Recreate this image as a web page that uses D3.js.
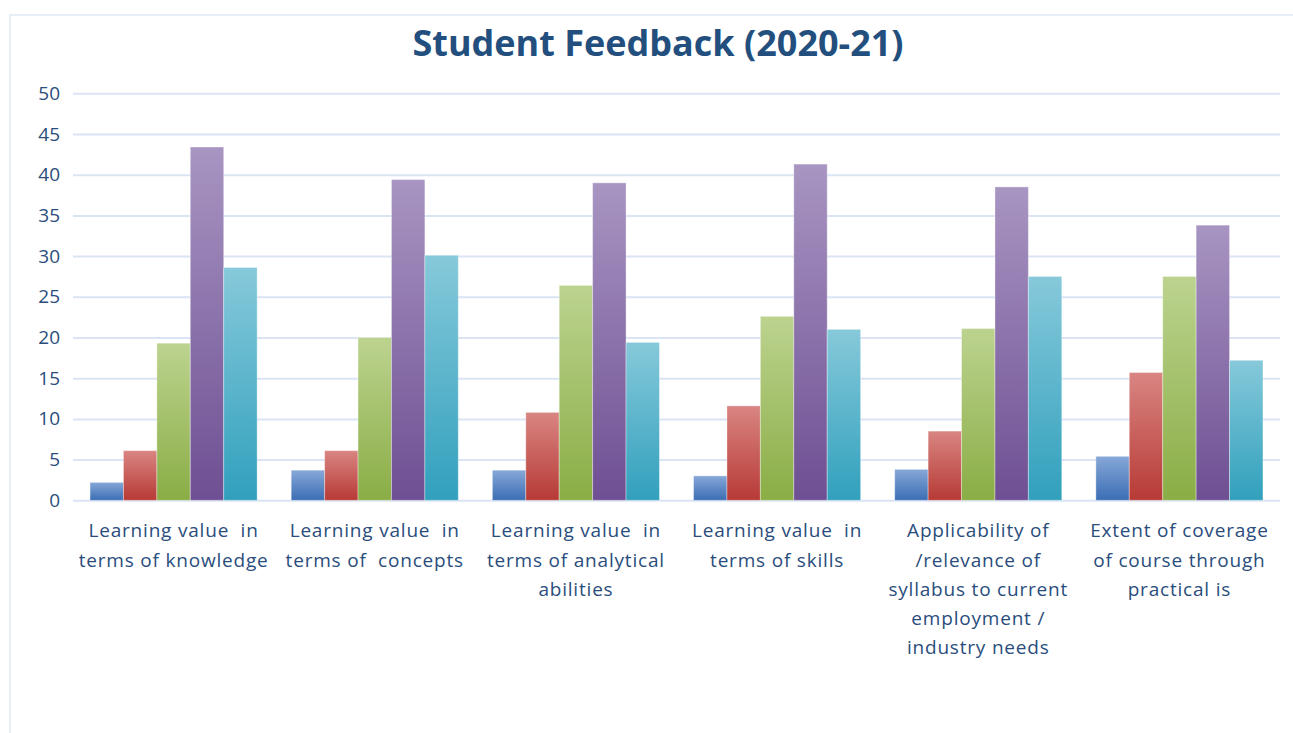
<!DOCTYPE html>
<html>
<head>
<meta charset="utf-8">
<script src="https://cdn.jsdelivr.net/npm/d3@7"></script>
<style>
  body { margin: 0; background: white; }
  text { font-family: "Open Sans", sans-serif; }
</style>
</head>
<body>
<div id="chart"></div>
<script>
const categories = [
    ["Learning value  in", "terms of knowledge"],
    ["Learning value  in", "terms of  concepts"],
    ["Learning value  in", "terms of analytical", "abilities"],
    ["Learning value  in", "terms of skills"],
    ["Applicability of", "/relevance of", "syllabus to current", "employment /", "industry needs"],
    ["Extent of coverage", "of course through", "practical is"]
];
const series1 = [2.2, 3.7, 3.7, 3.0, 3.8, 5.4];
const series2 = [6.1, 6.1, 10.8, 11.6, 8.5, 15.7];
const series3 = [19.3, 20.0, 26.4, 22.6, 21.1, 27.5];
const series4 = [43.4, 39.4, 39.0, 41.3, 38.5, 33.8];
const series5 = [28.6, 30.1, 19.4, 21.0, 27.5, 17.2];
const yTicks = [0, 5, 10, 15, 20, 25, 30, 35, 40, 45, 50];

function renderChart () {
    const wSvg = 1293;
    const hSvg = 733;
    const xLeft = 73;
    const xRight = 1280;
    const yTop = 93.3;
    const yBottom = 500.3;

    let allSeries = [series1, series2, series3, series4, series5];
    let colorStops = [
        ["#87a8d8", "#3b6db4"],
        ["#d98582", "#b73a35"],
        ["#bcd38f", "#8aad45"],
        ["#a895c2", "#6e4f93"],
        ["#86c9da", "#31a0bd"]
    ];

    let tableData = categories.map((c, i) => ({
        index: i,
        values: allSeries.map(s => s[i])
    }));

    let yScale = d3.scaleLinear([0, 50], [yBottom, yTop]);
    let groupScale = d3.scaleBand(d3.range(categories.length), [xLeft, xRight]).paddingInner(0).paddingOuter(0);
    let barScale = d3.scaleBand(d3.range(allSeries.length), [0, groupScale.bandwidth()]).paddingOuter(0.51).paddingInner(0);

    let svg = d3.select("#chart")
        .append("svg")
        .attr("width", wSvg)
        .attr("height", hSvg)
        .style("display", "block");

    let defs = svg.append("defs");
    colorStops.forEach((stops, i) => {
        let grad = defs.append("linearGradient")
            .attr("id", "grad" + i)
            .attr("x1", 0).attr("y1", 0)
            .attr("x2", 0).attr("y2", 1);
        grad.append("stop").attr("offset", "0%").attr("stop-color", stops[0]);
        grad.append("stop").attr("offset", "100%").attr("stop-color", stops[1]);
    });

    // outer frame
    svg.append("rect")
        .attr("x", 10)
        .attr("y", 15)
        .attr("width", wSvg)
        .attr("height", hSvg)
        .attr("fill", "none")
        .attr("stroke", "#e1e9f5")
        .attr("stroke-width", 1.5);

    svg.append("text")
        .attr("x", 658)
        .attr("y", 56)
        .attr("text-anchor", "middle")
        .attr("font-size", 36)
        .attr("font-weight", "bold")
        .attr("fill", "#234f7e")
        .text("Student Feedback (2020-21)");

    let yAxis = d3.axisLeft(yScale)
        .tickValues(yTicks)
        .tickSize(-(xRight - xLeft))
        .tickPadding(13);
    let yG = svg.append("g")
        .attr("transform", `translate(${xLeft}, 0)`)
        .call(yAxis);
    yG.select(".domain").remove();
    yG.selectAll(".tick line")
        .attr("stroke", "#dae4f5")
        .attr("stroke-width", 2);
    yG.selectAll(".tick text")
        .attr("fill", "#2a4d7c")
        .attr("font-size", 19)
        .style("font-family", "'Open Sans', sans-serif");

    let groups = svg.append("g")
        .selectAll("g")
        .data(tableData)
        .enter()
        .append("g")
        .attr("transform", d => `translate(${groupScale(d.index)}, 0)`);

    groups.selectAll("rect")
        .data(d => d.values)
        .enter()
        .append("rect")
        .attr("x", (d, i) => barScale(i))
        .attr("width", barScale.bandwidth())
        .attr("y", d => yScale(d))
        .attr("height", d => yBottom - yScale(d))
        .attr("fill", (d, i) => `url(#grad${i})`)
        .attr("stroke", "rgba(255,255,255,0.35)")
        .attr("stroke-width", 1);

    let xAxis = d3.axisBottom(groupScale).tickSize(0).tickFormat("");
    let xG = svg.append("g")
        .attr("transform", `translate(0, ${yBottom})`)
        .call(xAxis);
    xG.select(".domain").remove();

    xG.selectAll(".tick")
        .append("text")
        .attr("fill", "#2a4d7c")
        .attr("font-size", 19)
        .attr("letter-spacing", 0.8)
        .attr("text-anchor", "middle")
        .style("white-space", "pre")
        .selectAll("tspan")
        .data(d => categories[d])
        .enter()
        .append("tspan")
        .attr("x", 0)
        .attr("y", (d, i) => 37 + i * 29.3)
        .text(d => d);
}

renderChart();
</script>
</body>
</html>
